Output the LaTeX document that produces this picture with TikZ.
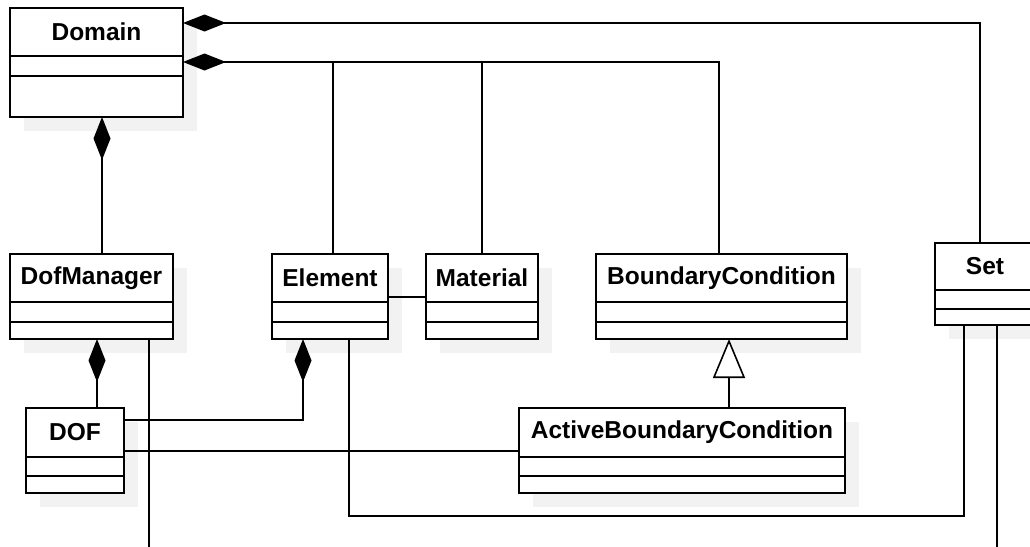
\documentclass[tikz,border=0pt]{standalone}
\usepackage{fontspec}
\setmainfont{Liberation Sans}
\usetikzlibrary{positioning,arrows.meta,shadows}
\tikzset{
  clsshadow/.style={drop shadow={shadow xshift=14pt, shadow yshift=-14pt, fill=black!5, opacity=1}},
  clsname/.style={draw, fill=white, line width=1.7pt, inner sep=0pt, outer sep=0pt,
    minimum height=48pt, anchor=north west, clsshadow,
    font=\bfseries\fontsize{24.5}{29}\selectfont},
  clspart/.style={draw, fill=white, line width=1.7pt, inner sep=0pt, outer sep=0pt, clsshadow},
  comp/.style={-{Diamond[length=43pt,width=17pt]}},
  inh/.style={-{Triangle[open,length=39pt,width=32pt,fill=white]}},
}
\begin{document}
\begin{tikzpicture}[x=1pt,y=-1pt]
  \useasboundingbox (0,0) rectangle (1030,546);
  \begin{scope}
  \clip (0,0) rectangle (1030,546);

  % classes
  \node[clsname, minimum width=173] (domain) at (10,8) {Domain};
  \node[clspart, minimum width=173, minimum height=20, below=0pt of domain] (domainA) {};
  \node[clspart, minimum width=173, minimum height=41, below=0pt of domainA] (domainB) {};

  \node[clsname, minimum width=163] (dofmanager) at (10,254) {DofManager};
  \node[clspart, minimum width=163, minimum height=20, below=0pt of dofmanager] (dofmanagerA) {};
  \node[clspart, minimum width=163, minimum height=17, below=0pt of dofmanagerA] (dofmanagerB) {};

  \node[clsname, minimum width=116] (element) at (272,254) {Element};
  \node[clspart, minimum width=116, minimum height=20, below=0pt of element] (elementA) {};
  \node[clspart, minimum width=116, minimum height=17, below=0pt of elementA] (elementB) {};

  \node[clsname, minimum width=112] (material) at (426,254) {Material};
  \node[clspart, minimum width=112, minimum height=20, below=0pt of material] (materialA) {};
  \node[clspart, minimum width=112, minimum height=17, below=0pt of materialA] (materialB) {};

  \node[clsname, minimum width=251] (bc) at (596,254) {BoundaryCondition};
  \node[clspart, minimum width=251, minimum height=20, below=0pt of bc] (bcA) {};
  \node[clspart, minimum width=251, minimum height=17, below=0pt of bcA] (bcB) {};

  \node[clsname, minimum width=100, minimum height=47] (set) at (935,243) {Set};
  \node[clspart, minimum width=100, minimum height=19, below=0pt of set] (setA) {};
  \node[clspart, minimum width=100, minimum height=16, below=0pt of setA] (setB) {};

  \node[clsname, minimum width=98, minimum height=49] (dof) at (26,408) {DOF};
  \node[clspart, minimum width=98, minimum height=19, below=0pt of dof] (dofA) {};
  \node[clspart, minimum width=98, minimum height=17, below=0pt of dofA] (dofB) {};

  \node[clsname, minimum width=326, minimum height=49] (abc) at (519,408) {ActiveBoundaryCondition};
  \node[clspart, minimum width=326, minimum height=19, below=0pt of abc] (abcA) {};
  \node[clspart, minimum width=326, minimum height=17, below=0pt of abcA] (abcB) {};

  % connectors
  \coordinate (bus) at ([yshift=4pt]domainA.east);
  \coordinate (eltop) at ([xshift=3pt]element.north);
  \coordinate (bctop) at ([xshift=-2.5pt]bc.north);
  \coordinate (dmtop) at ([xshift=10.5pt]dofmanager.north);
  \coordinate (dmdiamond) at ([xshift=5.5pt]dofmanagerB.south);
  \coordinate (eldiamond) at ([xshift=-27pt]elementB.south);
  \coordinate (elout) at ([xshift=19pt]elementB.south);
  \coordinate (elset) at ([xshift=-21pt]setB.south);
  \coordinate (bctip) at ([xshift=7.5pt]bcB.south);
  \coordinate (dmend) at (149,550);
  \coordinate (setend) at (997,550);
  \begin{scope}[line width=1.6pt]
    \draw[comp] ([xshift=-5pt]set.north) |- ([yshift=9pt]domain.east);
    \draw[comp] (bctop) |- (bus);
    \draw (eltop) -- (eltop |- bus);
    \draw (material.north) -- (material.north |- bus);
    \draw[comp] (dmtop) -- (dmtop |- domainB.south);
    \draw[comp] (dof.north -| dmdiamond) -- (dmdiamond);
    \draw[comp] ([yshift=12.5pt]dof.east) -| (eldiamond);
    \draw ([yshift=-18.5pt]dof.east) -- ([yshift=-18.5pt]abc.west);
    \draw ([yshift=-19pt]element.east) -- ([yshift=-19pt]material.west);
    \draw[inh] (abc.north -| bctip) -- (bctip);
    \draw (dofmanagerB.south -| dmend) -- (dmend);
    \draw (elout) -- ++(0,177) -| (elset);
    \draw (setB.south -| setend) -- (setend);
  \end{scope}
  \end{scope}
\end{tikzpicture}
\end{document}
